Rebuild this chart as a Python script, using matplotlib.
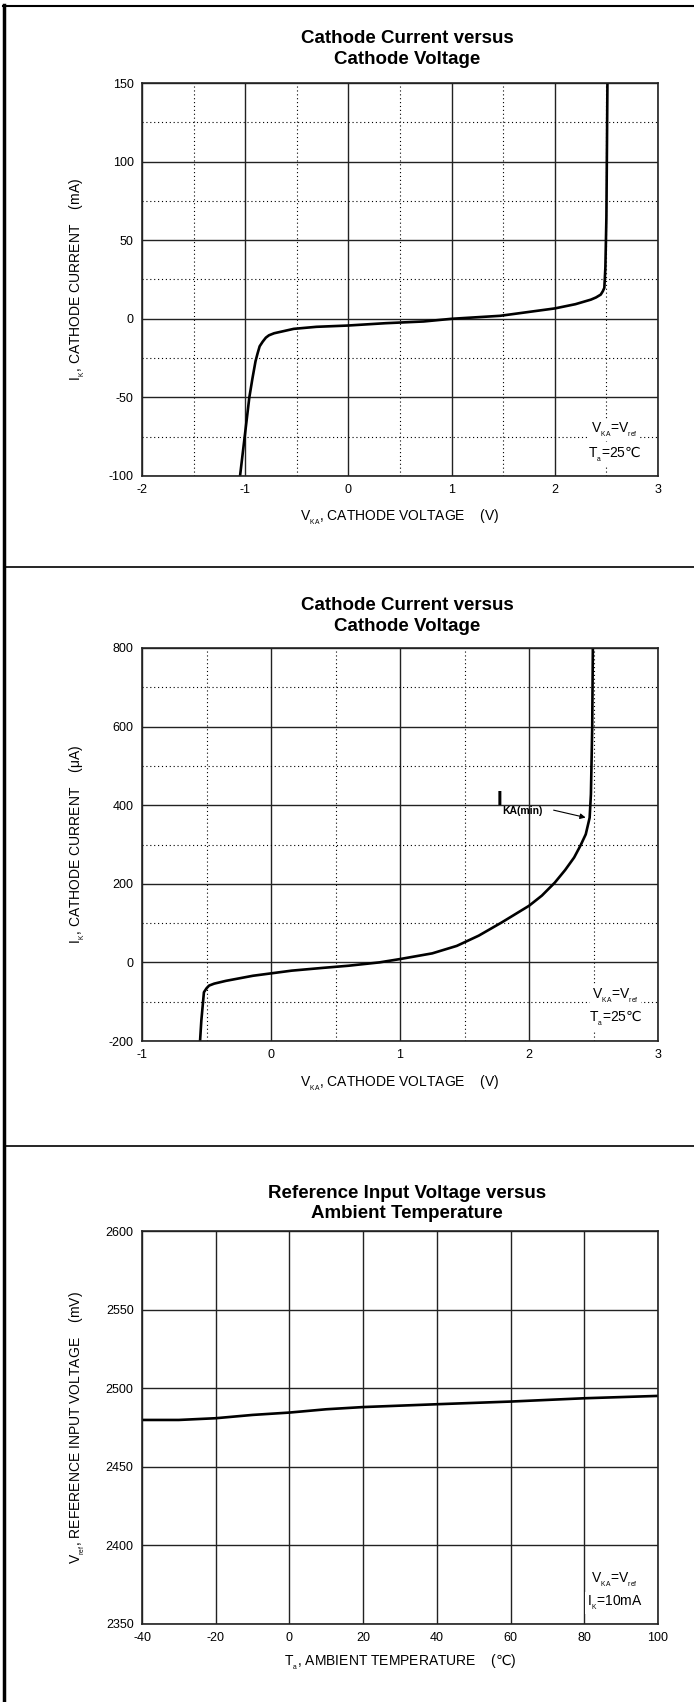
import matplotlib
matplotlib.use('Agg')
import matplotlib.pyplot as plt
from matplotlib.lines import Line2D

plt.rcParams['font.family'] = ['Liberation Sans', 'DejaVu Sans']
plt.rcParams['mathtext.fontset'] = 'custom'
plt.rcParams['mathtext.rm'] = 'Liberation Sans'
plt.rcParams['mathtext.it'] = 'Liberation Sans'
plt.rcParams['mathtext.bf'] = 'Liberation Sans:bold'
plt.rcParams['mathtext.sf'] = 'DejaVu Sans'   # only used for the degree-Celsius sign
plt.rcParams['axes.unicode_minus'] = False

# chart 1: cathode current (mA) vs cathode voltage (V)
v1 = [-1.05, -0.96, -0.93, -0.90, -0.88, -0.86, -0.83, -0.80, -0.77, -0.72, -0.53,
      -0.31, -0.01, 0.36, 0.73, 1.0, 1.47, 2.0, 2.2, 2.35, 2.40, 2.445, 2.465,
      2.48, 2.49, 2.50, 2.51]
i1 = [-100, -50, -38, -27, -22, -17.5, -14.5, -12, -10.5, -9.2, -6.4,
      -5.1, -4.3, -2.8, -1.7, 0.0, 1.9, 6.6, 9.3, 12.2, 13.6, 15.4, 17.5,
      19.7, 32.5, 64.5, 150]

# chart 2: cathode current (uA) vs cathode voltage (V)
v2 = [-0.55, -0.54, -0.52, -0.50, -0.48, -0.44, -0.35, -0.14, 0.16, 0.4, 0.6, 0.84,
      1.0, 1.25, 1.44, 1.61, 1.79, 2.0, 2.1, 2.2, 2.28, 2.35, 2.40, 2.44, 2.47,
      2.48, 2.49, 2.495]
i2 = [-200, -148, -76, -66, -59, -54, -47, -34, -21, -14, -8.5, 0,
      8.5, 23, 42, 68, 102, 144, 170, 203, 235, 267, 298, 326, 368,
      428, 597, 800]

# chart 3: reference voltage (mV) vs ambient temperature (C)
t3 = [-40, -30, -20, -10, 0, 10, 20, 40, 60, 80, 100]
vref = [2479.8, 2479.8, 2480.9, 2483, 2484.5, 2486.6, 2488, 2489.8, 2491.5, 2493.6, 2495.1]

W, H = 694, 1702
fig = plt.figure(figsize=(W / 100, H / 100), dpi=100)

DEGC = '$\\mathsf{℃}$'


def sub(s):
    # small, low subscript like the datasheet
    return '$_{{}_\\mathregular{' + s + '}}$'


def make_axes(top_px):
    # axes placed in pixel units of the original page
    return fig.add_axes([142 / W, 1 - (top_px + 393) / H, 516 / W, 393 / H])


def style(ax, xlim, ylim, xmaj, ymaj, xmin=None, ymin=None):
    ax.set_xlim(xlim)
    ax.set_ylim(ylim)
    ax.set_xticks(xmaj)
    ax.set_yticks(ymaj)
    if xmin is not None:
        ax.set_xticks(xmin, minor=True)
        ax.set_yticks(ymin, minor=True)
        ax.grid(which='minor', color='black', lw=0.8, ls=(0, (1, 2.5)))
    ax.grid(which='major', color='#222222', lw=1.0)
    ax.set_axisbelow(True)
    ax.tick_params(which='both', length=0, labelsize=9, pad=6)
    for s in ax.spines.values():
        s.set_color('#222222')
        s.set_linewidth(1.2)


box = dict(facecolor='white', edgecolor='none', pad=1.5)
title_kw = dict(fontsize=13.5, fontweight='bold', x=0.514, linespacing=1.3)

# ---- chart 1
ax1 = make_axes(83)
style(ax1, (-2, 3), (-100, 150), range(-2, 4), range(-100, 151, 50),
      [-1.5, -0.5, 0.5, 1.5, 2.5], [-75, -25, 25, 75, 125])
ax1.plot(v1, i1, color='black', lw=1.9)
ax1.set_title('Cathode Current versus\nCathode Voltage', pad=14, **title_kw)
ax1.set_xlabel('V' + sub('KA') + ', CATHODE VOLTAGE    (V)', fontsize=10, labelpad=8)
ax1.set_ylabel('I' + sub('K') + ', CATHODE CURRENT    (mA)', fontsize=10)
ax1.yaxis.set_label_coords(-0.126, 0.5)
ax1.yaxis.label.set_va('center')
ax1.text(2.58, -70.7, 'V' + sub('KA') + '=V' + sub('ref'), fontsize=10,
         ha='center', va='center', bbox=box)
ax1.text(2.58, -86.6, 'T' + sub('a') + '=25' + DEGC, fontsize=10,
         ha='center', va='center', bbox=box)

# ---- chart 2
ax2 = make_axes(648)
style(ax2, (-1, 3), (-200, 800), range(-1, 4), range(-200, 801, 200),
      [-0.5, 0.5, 1.5, 2.5], [-100, 100, 300, 500, 700])
ax2.plot(v2, i2, color='black', lw=1.9)
ax2.set_title('Cathode Current versus\nCathode Voltage', pad=12.5, **title_kw)
ax2.set_xlabel('V' + sub('KA') + ', CATHODE VOLTAGE    (V)', fontsize=10, labelpad=9)
ax2.set_ylabel('I' + sub('K') + ', CATHODE CURRENT    (μA)', fontsize=10)
ax2.yaxis.set_label_coords(-0.126, 0.5)
ax2.yaxis.label.set_va('center')
ax2.text(2.67, -84.5, 'V' + sub('KA') + '=V' + sub('ref'), fontsize=10,
         ha='center', va='center', bbox=box)
ax2.text(2.67, -143, 'T' + sub('a') + '=25' + DEGC, fontsize=10,
         ha='center', va='center', bbox=box)
ax2.text(1.75, 400, 'I', fontsize=15, fontweight='bold', ha='left', va='baseline')
ax2.text(1.79, 377, 'KA(min)', fontsize=7.5, fontweight='bold', ha='left', va='baseline')
ax2.annotate('', xy=(2.46, 367), xytext=(2.17, 389),
             arrowprops=dict(arrowstyle='-|>', color='black', lw=0.8, mutation_scale=8))

# ---- chart 3
ax3 = make_axes(1231)
style(ax3, (-40, 100), (2350, 2600), range(-40, 101, 20), range(2350, 2601, 50))
ax3.plot(t3, vref, color='black', lw=1.9)
ax3.set_title('Reference Input Voltage versus\nAmbient Temperature', pad=9, **title_kw)
ax3.set_xlabel('T' + sub('a') + ', AMBIENT TEMPERATURE    (' + DEGC + ')',
               fontsize=10, labelpad=6)
ax3.set_ylabel('V' + sub('ref') + ', REFERENCE INPUT VOLTAGE    (mV)', fontsize=10)
ax3.yaxis.set_label_coords(-0.126, 0.5)
ax3.yaxis.label.set_va('center')
ax3.text(88.3, 2378, 'V' + sub('KA') + '=V' + sub('ref'), fontsize=10,
         ha='center', va='center', bbox=box)
ax3.text(88.3, 2363.4, 'I' + sub('K') + '=10mA', fontsize=10, ha='center', va='center', bbox=box)

# page frame and separators
fig.add_artist(Line2D([4 / W, 4 / W], [0, 1 - 5 / H], transform=fig.transFigure,
                      color='black', lw=2.5))
fig.add_artist(Line2D([3 / W, 1], [1 - 6 / H, 1 - 6 / H], transform=fig.transFigure,
                      color='black', lw=1.5))
for y in (567, 1146):
    fig.add_artist(Line2D([4 / W, 1], [1 - y / H, 1 - y / H], transform=fig.transFigure,
                          color='black', lw=1.2))

fig.savefig('out.png', dpi=100)
